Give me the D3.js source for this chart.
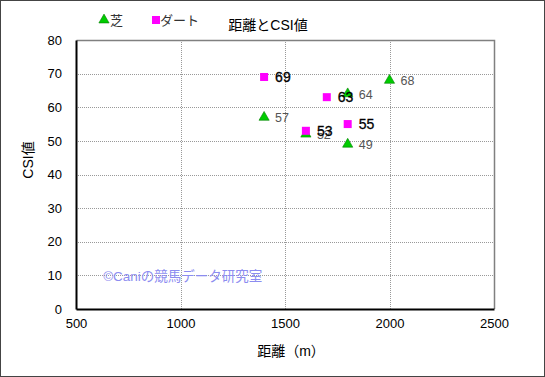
<!DOCTYPE html>
<html>
<head>
<meta charset="utf-8">
<script src="https://cdn.jsdelivr.net/npm/d3@7"></script>
<style>
  body { margin: 0; background: #fff; }
  svg { display: block; font-family: "Liberation Sans", Arial, "Noto Sans CJK JP", sans-serif; }
</style>
</head>
<body>
<div id="chart"></div>
<script>
// 芝 (turf)
const turfDist = [1400, 1600, 1800, 1800, 2000];
const turfCsi = [57, 52, 64, 49, 68];
// ダート (dirt)
const dirtDist = [1400, 1600, 1700, 1800];
const dirtCsi = [69, 53, 63, 55];

const xTicks = [500, 1000, 1500, 2000, 2500];
const yTicks = [0, 10, 20, 30, 40, 50, 60, 70, 80];

const W = 545, H = 377;
const margin = { top: 40, right: 51, bottom: 68, left: 76 };
const width = W - margin.left - margin.right;
const height = H - margin.top - margin.bottom;

const svg = d3.select('#chart')
    .append('svg')
    .attr('width', W)
    .attr('height', H);

// outer border
svg.append('rect')
    .attr('x', 0.5).attr('y', 0.5)
    .attr('width', W - 1).attr('height', H - 1)
    .attr('fill', '#fff')
    .attr('stroke', '#444');

const g = svg.append('g')
    .attr('transform', `translate(${margin.left},${margin.top})`);

const x = d3.scaleLinear().domain([500, 2500]).range([0, width]);
const y = d3.scaleLinear().domain([0, 80]).range([height, 0]);

// grid
g.selectAll('.vgrid').data(xTicks.slice(1, -1)).enter()
    .append('line')
    .attr('x1', d => Math.round(x(d)) + 0.5).attr('x2', d => Math.round(x(d)) + 0.5)
    .attr('y1', 0).attr('y2', height)
    .attr('stroke', '#999').attr('stroke-dasharray', '1,1');
g.selectAll('.hgrid').data(yTicks.slice(1, -1)).enter()
    .append('line')
    .attr('x1', 0).attr('x2', width)
    .attr('y1', d => Math.round(y(d)) + 0.5).attr('y2', d => Math.round(y(d)) + 0.5)
    .attr('stroke', '#999').attr('stroke-dasharray', '1,1');

// frame: top + right grey
g.append('path')
    .attr('d', `M0.5,0.5H${width + 0.5}V${height}`)
    .attr('fill', 'none').attr('stroke', '#808080').attr('stroke-width', 1.5);

// axes
const xAxis = g.append('g')
    .attr('transform', `translate(0,${height})`)
    .call(d3.axisBottom(x).tickValues(xTicks).tickSize(0).tickPadding(10).tickFormat(d3.format('d')));
const yAxis = g.append('g')
    .call(d3.axisLeft(y).tickValues(yTicks).tickSize(0).tickPadding(14));
[xAxis, yAxis].forEach(a => {
    a.select('.domain').attr('stroke', '#000').attr('stroke-width', 2);
    a.selectAll('text').attr('font-size', 13).attr('fill', '#000');
});

// watermark
g.append('text')
    .attr('x', x(630)).attr('y', y(10) + 1)
    .attr('dy', '0.35em')
    .attr('font-size', 13.5)
    .attr('fill', '#8c8cf0')
    .text('©Caniの競馬データ研究室');

// turf points
g.selectAll('.turf').data(turfDist).enter()
    .append('path')
    .attr('transform', (d, i) => `translate(${x(d)},${y(turfCsi[i])})`)
    .attr('d', d3.symbol().type(d3.symbolTriangle).size(45))
    .attr('fill', '#00cc00')
    .attr('stroke', '#008000').attr('stroke-width', 0.6);
g.selectAll('.turfLabel').data(turfDist).enter()
    .append('text')
    .attr('x', d => x(d) + 11)
    .attr('y', (d, i) => y(turfCsi[i]))
    .attr('dy', '0.38em')
    .attr('font-size', 12.5)
    .attr('fill', '#555')
    .text((d, i) => turfCsi[i]);

// dirt points
g.selectAll('.dirt').data(dirtDist).enter()
    .append('rect')
    .attr('x', d => x(d) - 4)
    .attr('y', (d, i) => y(dirtCsi[i]) - 4)
    .attr('width', 8).attr('height', 8)
    .attr('fill', '#ff00ff');
g.selectAll('.dirtLabel').data(dirtDist).enter()
    .append('text')
    .attr('x', d => x(d) + 11)
    .attr('y', (d, i) => y(dirtCsi[i]))
    .attr('dy', '0.38em')
    .attr('font-size', 14)
    .attr('fill', '#000')
    .attr('stroke', '#000').attr('stroke-width', 0.3)
    .text((d, i) => dirtCsi[i]);

// title
svg.append('text')
    .attr('x', 268).attr('y', 30)
    .attr('text-anchor', 'middle')
    .attr('font-size', 14)
    .text('距離とCSI値');

// legend
const legend = svg.append('g');
legend.append('path')
    .attr('transform', 'translate(104,20)')
    .attr('d', d3.symbol().type(d3.symbolTriangle).size(45))
    .attr('fill', '#00cc00').attr('stroke', '#008000').attr('stroke-width', 0.6);
legend.append('text')
    .attr('x', 110).attr('y', 25)
    .attr('font-size', 13).attr('fill', '#333')
    .text('芝');
legend.append('rect')
    .attr('x', 152).attr('y', 16).attr('width', 8).attr('height', 8)
    .attr('fill', '#ff00ff');
legend.append('text')
    .attr('x', 160).attr('y', 25)
    .attr('font-size', 13).attr('fill', '#333')
    .text('ダート');

// axis titles
svg.append('text')
    .attr('x', 291).attr('y', 356)
    .attr('text-anchor', 'middle')
    .attr('font-size', 14)
    .text('距離（m）');
svg.append('text')
    .attr('transform', 'translate(33,160) rotate(-90)')
    .attr('text-anchor', 'middle')
    .attr('font-size', 14)
    .text('CSI値');
</script>
</body>
</html>
